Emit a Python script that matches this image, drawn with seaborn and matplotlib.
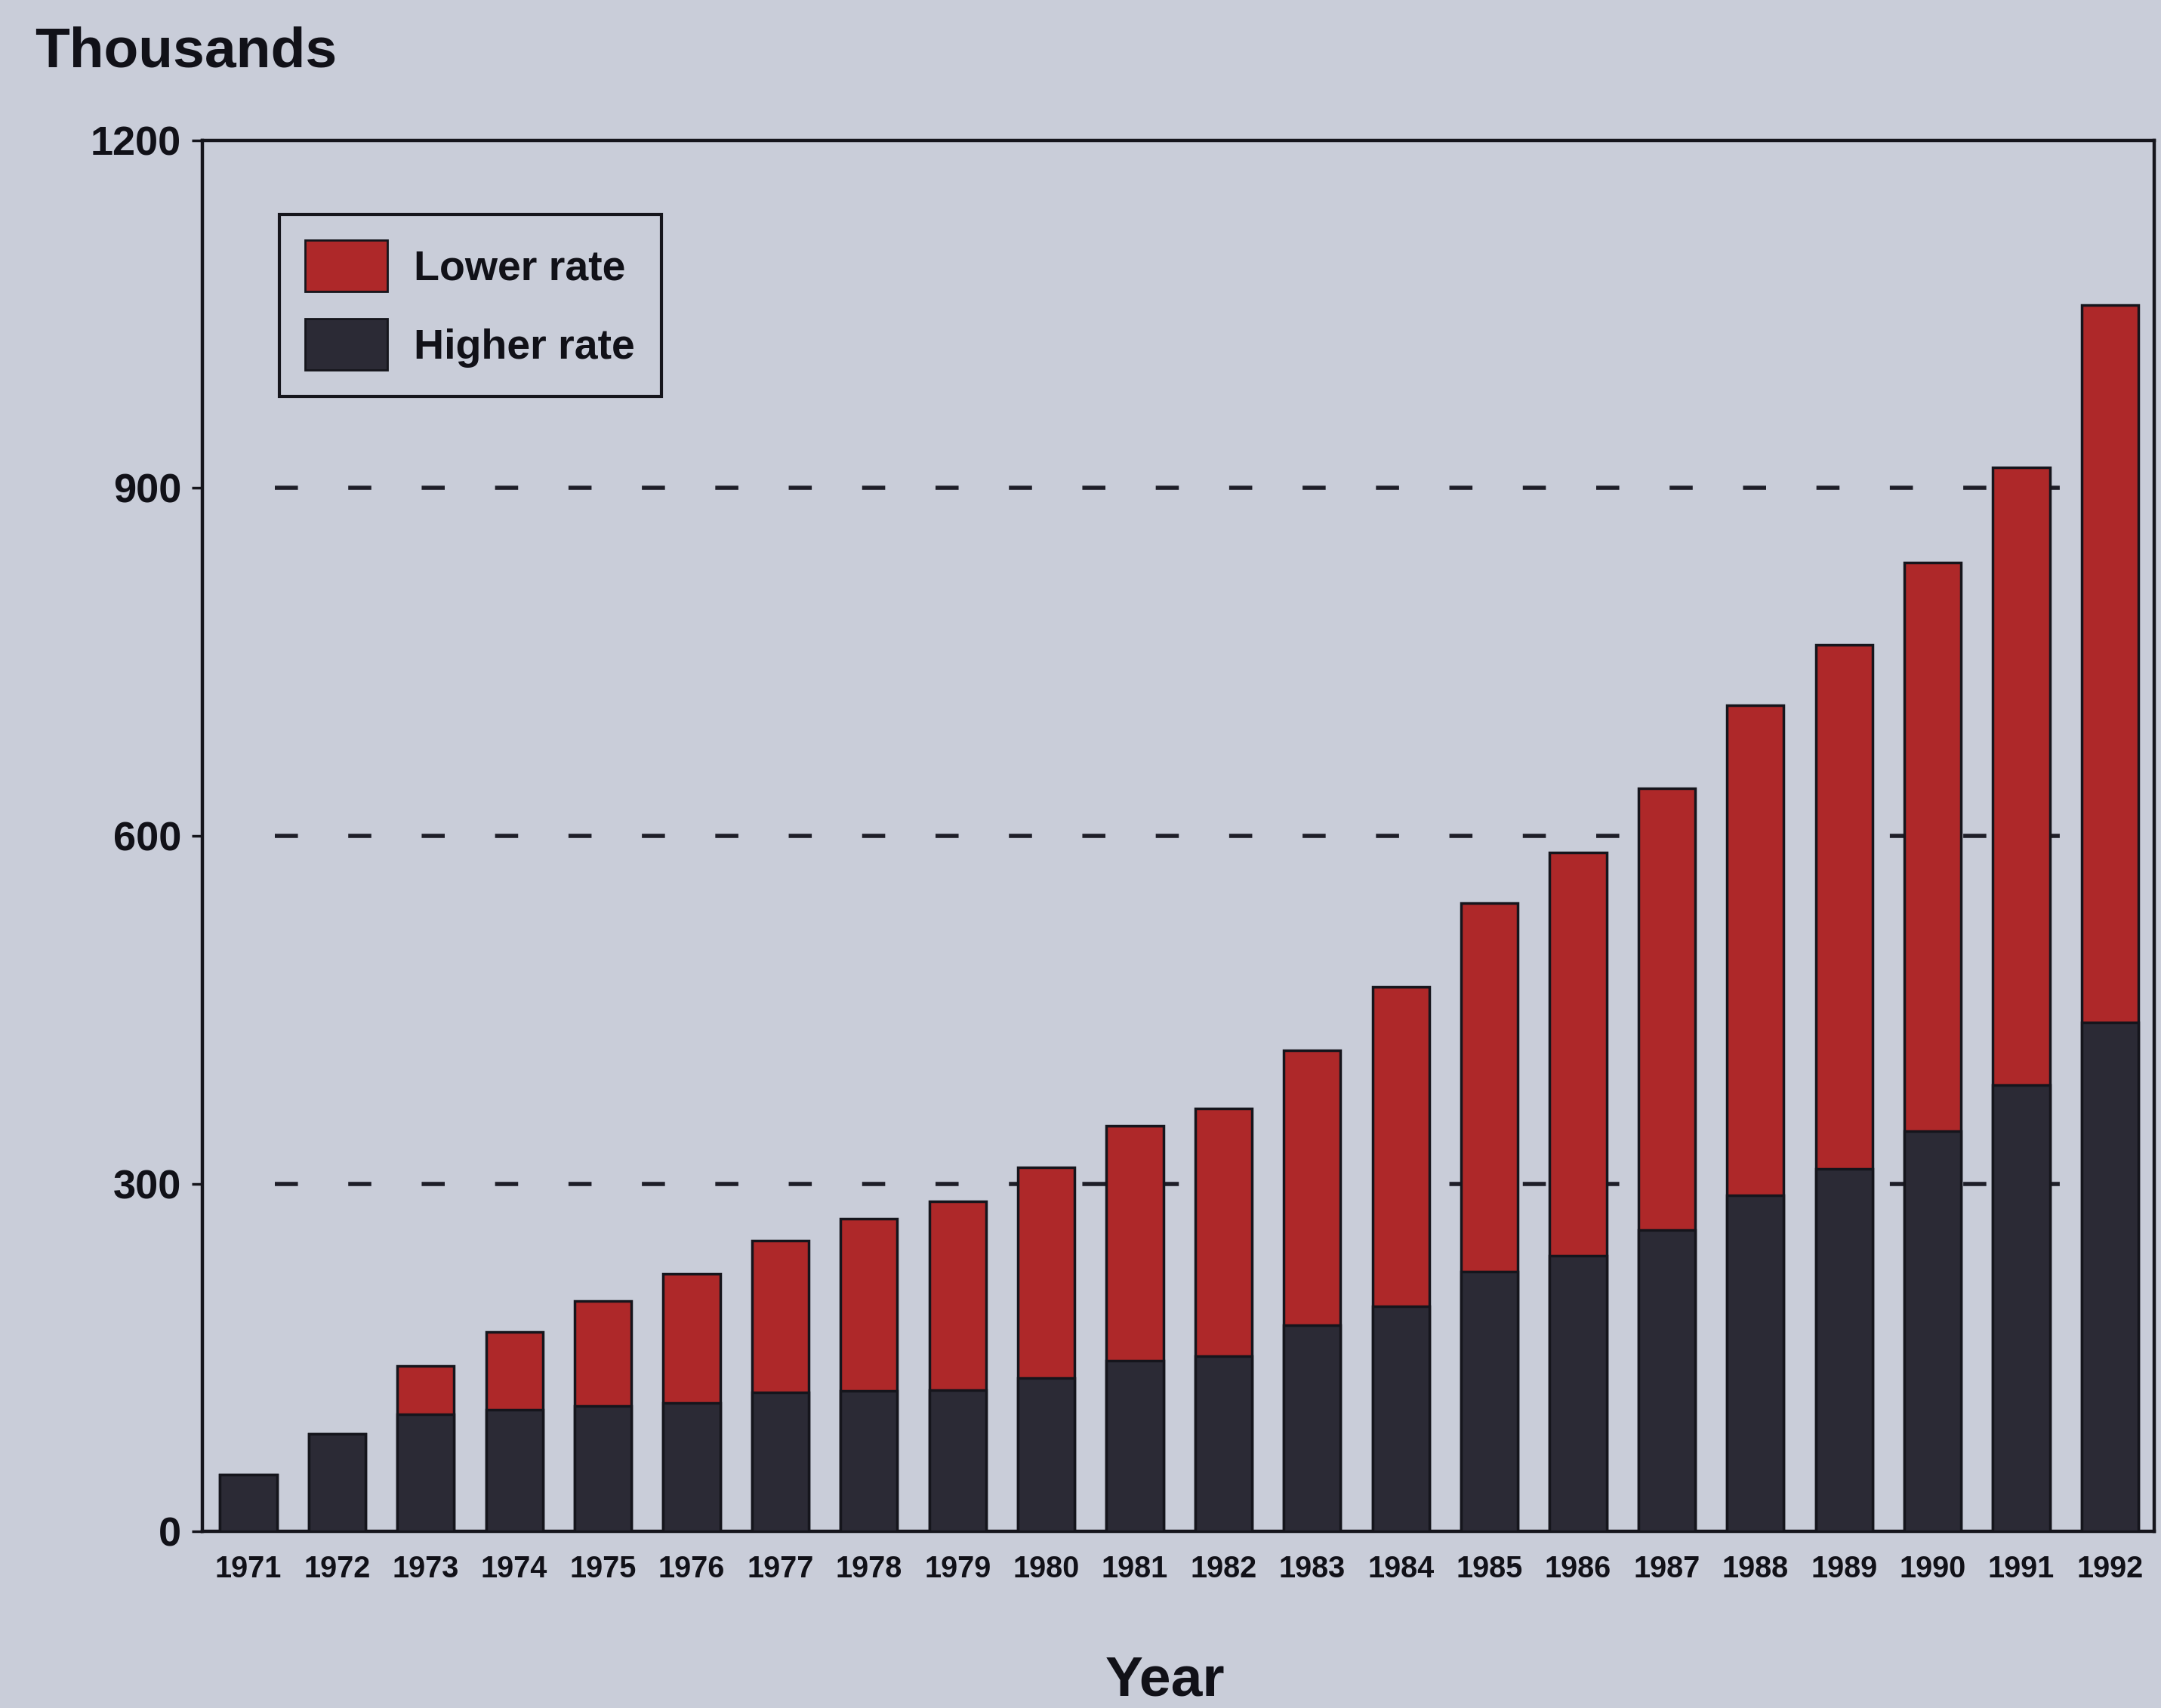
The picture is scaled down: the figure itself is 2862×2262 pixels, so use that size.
import matplotlib
matplotlib.use("Agg")
import matplotlib.pyplot as plt
import matplotlib.patches as mpatches
import seaborn as sns
import pandas as pd

# ---- data (thousands) ----
years = [str(y) for y in range(1971, 1993)]
higher_rate = [49, 84, 101, 105, 108, 111, 120, 121, 122, 132, 147, 151,
               178, 194, 224, 238, 260, 290, 313, 345, 385, 439]
lower_rate = [0, 0, 42, 67, 91, 111, 131, 149, 163, 182, 203, 214,
              237, 276, 318, 348, 381, 423, 452, 491, 533, 619]
y_ticks = [0, 300, 600, 900, 1200]
grid_levels = [300, 600, 900]
series_names = ["Lower rate", "Higher rate"]

df = pd.DataFrame({"year": years, "higher": higher_rate, "lower": lower_rate})
df["total"] = df["higher"] + df["lower"]

BG = "#c9cdd9"
RED = "#ae2829"
DARK = "#2b2a35"
FONT = ["Liberation Sans", "DejaVu Sans"]

sns.set_theme(style="white")
plt.rcParams["font.family"] = FONT
plt.rcParams["font.weight"] = "bold"

fig = plt.figure(figsize=(28.62, 22.62), dpi=100, facecolor=BG)
ax = fig.add_axes([0.0936, 0.1034, 0.9033, 0.8144])
ax.set_facecolor(BG)

# dashed reference lines behind bars
for g in grid_levels:
    ax.axhline(g, xmin=0.037, xmax=0.953, color="#1e1e28", lw=4,
               linestyle=(0, (5.5, 12)), zorder=0.5)

sns.barplot(data=df, x="year", y="total", color=RED, edgecolor="#15151c",
            linewidth=2.5, width=0.64, saturation=1, ax=ax, zorder=2)
sns.barplot(data=df, x="year", y="higher", color=DARK, edgecolor="#15151c",
            linewidth=2.5, width=0.64, saturation=1, ax=ax, zorder=3)

ax.set_xlim(-0.52, len(years) - 0.5)
ax.set_ylim(0, 1200)
ax.set_yticks(y_ticks)
ax.set_yticklabels([str(t) for t in y_ticks])
ax.set_xlabel("")
ax.set_ylabel("")

ax.tick_params(axis="y", which="major", length=10, width=2.5, color="#15151c",
               labelsize=39, pad=10, left=True)
ax.tick_params(axis="x", which="major", length=0, labelsize=28.5, pad=22)
for lab in ax.get_xticklabels() + ax.get_yticklabels():
    lab.set_fontweight("bold")
    lab.set_color("#111118")

for sp in ax.spines.values():
    sp.set_visible(True)
    sp.set_color("#15151c")
    sp.set_linewidth(3.2)

handles = [mpatches.Patch(facecolor=RED, edgecolor="#15151c", linewidth=2),
           mpatches.Patch(facecolor=DARK, edgecolor="#15151c", linewidth=2)]
leg = ax.legend(handles, series_names, loc="upper left",
                bbox_to_anchor=(0.0395, 0.947), borderaxespad=0,
                frameon=True, fancybox=False, facecolor=BG, edgecolor="#15151c",
                framealpha=1, prop={"family": FONT, "weight": "bold", "size": 40},
                handlelength=1.96, handleheight=1.5, labelspacing=0.66,
                handletextpad=0.63, borderpad=0.62)
leg.get_frame().set_linewidth(3)
for t in leg.get_texts():
    t.set_color("#111118")

fig.text(0.016, 0.961, "Thousands", fontsize=54, fontweight="bold",
         color="#111118", va="baseline", ha="left")
fig.text(0.539, 0.0075, "Year", fontsize=54, fontweight="bold",
         color="#111118", va="baseline", ha="center")

fig.savefig("out.png", dpi=100, facecolor=BG)
